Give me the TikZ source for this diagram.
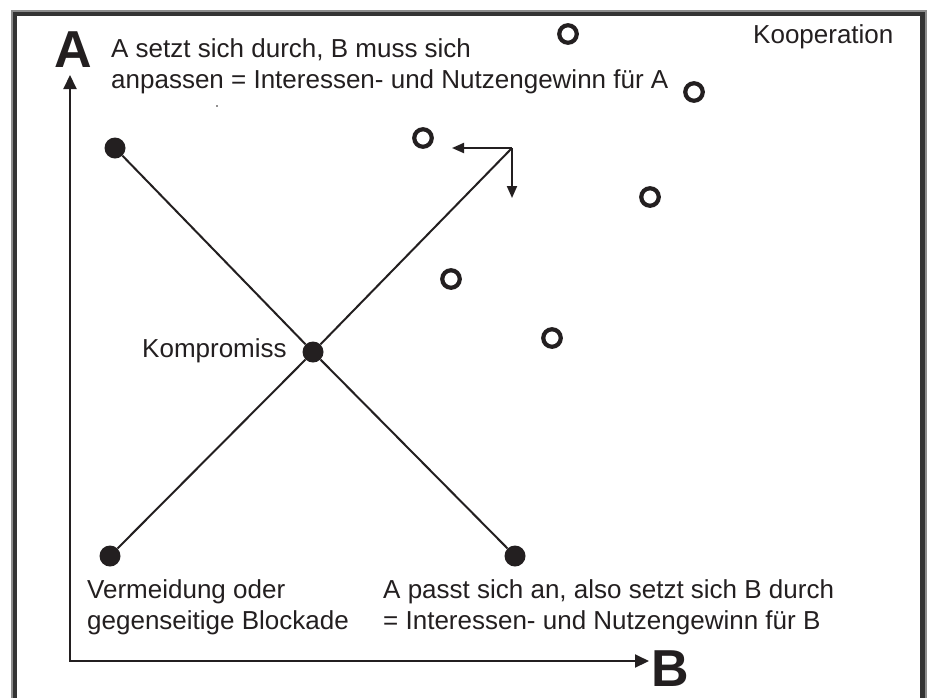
\documentclass[tikz,border=0pt]{standalone}
\usepackage{fontspec}
\setmainfont{Liberation Sans}
\usetikzlibrary{arrows.meta}
\definecolor{ink}{RGB}{35,31,32}
\begin{document}
\begin{tikzpicture}[x=1pt,y=-1pt,
  lbl/.style={inner sep=0pt, anchor=base west, text=ink, font=\fontsize{26}{30}\selectfont},
  big/.style={inner sep=0pt, anchor=base west, text=ink, font=\fontsize{52}{56}\selectfont\bfseries},
  fdot/.style={circle, fill=ink, inner sep=0pt, minimum size=21pt},
  odot/.style={circle, draw=ink, line width=4.2pt, inner sep=0pt, minimum size=17.5pt},
  conn/.style={draw=ink, line width=2pt},
  arr/.style={conn, -{Triangle[length=12pt,width=10pt]}},
  axis/.style={conn, {Triangle[length=14pt,width=13pt]}-{Triangle[length=14pt,width=13pt]}},
]
\useasboundingbox (0,0) rectangle (933,697);
\fill[white] (0,0) rectangle (933,697);
\begin{scope}
\clip (0,0) rectangle (933,697);
\draw[line width=6.5pt, draw=black!45] (13.85,720) -- (13.85,13) -- (923.75,13) -- (923.75,720);
\draw[line width=4.4pt, draw=black!80] (14.7,720) -- (14.7,14.1) -- (922.6,14.1) -- (922.6,720);
\end{scope}

% points
\node[fdot] (tl) at (115,148) {};
\node[fdot] (bl) at (110,556) {};
\node[fdot] (br) at (515,556) {};
\node[fdot] (c) at (313,352) {};
\coordinate (corner) at (512,148);
\coordinate (lt) at (452,148);
\coordinate (dn) at (512,198);
\coordinate (org) at (70,661);
\coordinate (atip) at (70,75);
\coordinate (btip) at (649,661);

\draw[conn] (tl) -- (c);
\draw[conn] (c) -- (br);
\draw[conn] (bl) -- (c);
\draw[conn] (c) -- (corner);
\draw[arr] (corner) -- (lt);
\draw[arr] (corner) -- (dn);
\draw[axis] (atip) -- (org) -- (btip);

% open circles
\node[odot] (o1) at (423,138) {};
\node[odot] (o2) at (568,34) {};
\node[odot] (o3) at (694,92) {};
\node[odot] (o4) at (650,197) {};
\node[odot] (o5) at (451,279) {};
\node[odot] (o6) at (552,338) {};

\fill[ink] (217,106) circle (0.8pt);

% texts
\node[lbl] (ta1) at (111,57) {A setzt sich durch, B muss sich};
\node[lbl] (ta2) at (111,88) {anpassen = Interessen- und Nutzengewinn für A};
\node[lbl] (koop) at (753,43) {Kooperation};
\node[lbl] (komp) at (142,357) {Kompromiss};
\node[lbl] (v1) at (87,598) {Vermeidung oder};
\node[lbl] (v2) at (87,629) {gegenseitige Blockade};
\node[lbl] (p1) at (383,598) {A passt sich an, also setzt sich B durch};
\node[lbl] (p2) at (383,629) {= Interessen- und Nutzengewinn für B};
\node[big] (A) at (54,67) {A};
\node[big] (B) at (651,686) {B};
\end{tikzpicture}
\end{document}
